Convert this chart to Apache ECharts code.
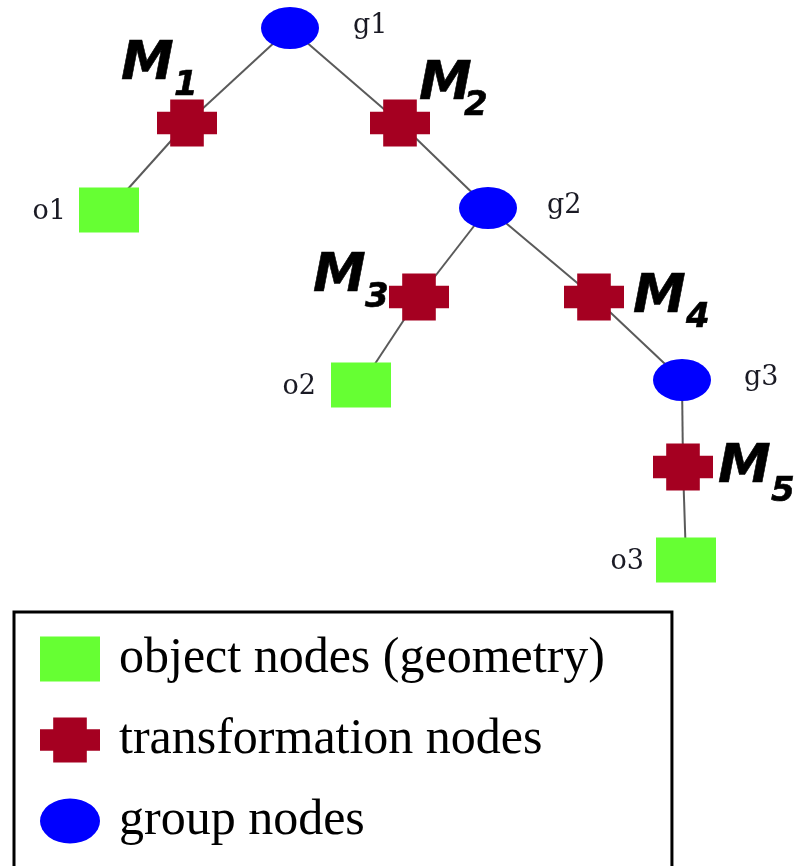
<!DOCTYPE html>
<html><head><meta charset="utf-8">
<script src="https://cdn.jsdelivr.net/npm/echarts@6/dist/echarts.min.js"></script>
<style>html,body{margin:0;padding:0;background:#fff}#c{width:805px;height:866px}</style>
</head><body><div id="c"></div>
<script>
// ---- data ----
const nodeNames = ['g1','M1','M2','o1','g2','M3','M4','o2','g3','M5','o3'];
const nodeTypes = ['group','transform','transform','object','group','transform','transform','object','group','transform','object'];
const nodeX = [290,187,400,109,488,419,594,361,682,683,686];
const nodeY = [28,123,123,210,208,297,297,385,380,467,560];
const edgeSource = ['g1','M1','g1','M2','g2','M3','g2','M4','g3','M5'];
const edgeTarget = ['M1','o1','M2','g2','M3','o2','M4','g3','M5','o3'];
const legendNames = ['object nodes (geometry)','transformation nodes','group nodes'];
const legendTypes = ['object','transform','group'];

// ---- styles ----
const SYM = {
  object:    {symbol:'rect', size:[60,45], color:'#66FF33'},
  transform: {symbol:'path://M22,0H78V26H100V74H78V100H22V74H0V26H22Z', size:[60,47], color:'#A50021'},
  group:     {symbol:'path://M0,50A50,50 0 1 1 100,50A50,50 0 1 1 0,50Z', size:[58,42], color:'#0000FF'}
};
const nameLabel = {
  g1:{position:'right',distance:34,offset:[0,-2]},
  g2:{position:'right',distance:30,offset:[0,-2]},
  g3:{position:'right',distance:33,offset:[0,-2]},
  o1:{position:'left',distance:13,offset:[0,2]},
  o2:{position:'left',distance:15,offset:[0,2]},
  o3:{position:'left',distance:12,offset:[0,2]}
};
const mOffset   = {M1:[-66,-58], M2:[19,-38], M3:[-106,-20], M4:[39,1], M5:[35,1]};
const subOffset = {M1:[-13,-37], M2:[64,-17], M3:[-54,1], M4:[92,21], M5:[88,25]};
const mFont = 'DejaVu Sans';

const nodes = nodeNames.map((n,i)=>{
  const s = SYM[nodeTypes[i]];
  const lab = nameLabel[n];
  return {
    name:n, value:[nodeX[i],nodeY[i]], category:legendTypes.indexOf(nodeTypes[i]),
    symbol:s.symbol, symbolSize:s.size, itemStyle:{color:s.color},
    label: lab ? {show:true, position:lab.position, distance:lab.distance, offset:lab.offset,
                  formatter:n, fontFamily:'DejaVu Serif', fontSize:27, color:'#1a1a24'} : {show:false}
  };
});
const links = edgeSource.map((s,i)=>({source:s, target:edgeTarget[i]}));
const tIdx = nodeNames.map((n,i)=>i).filter(i=>nodeTypes[i]==='transform');
const mData = tIdx.map(i=>({value:[nodeX[i],nodeY[i]], label:{offset:mOffset[nodeNames[i]]}}));
const subData = tIdx.map(i=>({value:[nodeX[i],nodeY[i]], name:nodeNames[i].slice(1), label:{offset:subOffset[nodeNames[i]]}}));

const chart = echarts.init(document.getElementById('c'));
chart.setOption({
  animation:false,
  grid:{left:0,right:0,top:0,bottom:0,containLabel:false},
  xAxis:{type:'value',min:0,max:805,show:false},
  yAxis:{type:'value',min:0,max:866,inverse:true,show:false},
  legend:{
    data: legendNames.map((n,i)=>({name:n, icon:SYM[legendTypes[i]].symbol})),
    orient:'vertical', left:14, top:612, height:330,
    itemWidth:60, itemHeight:45, itemGap:31,
    padding:[22,67,40,26], borderColor:'#000', borderWidth:3, backgroundColor:'#fff',
    textStyle:{fontFamily:'Liberation Serif', fontSize:50, color:'#000', padding:[0,0,0,14]},
    selectedMode:false, symbolKeepAspect:false
  },
  series:[
    {
      type:'graph', coordinateSystem:'cartesian2d', layout:'none',
      categories: legendTypes.map((t,i)=>({name:legendNames[i], symbol:SYM[t].symbol, symbolSize:SYM[t].size, itemStyle:{color:SYM[t].color}})),
      data:nodes, links:links,
      lineStyle:{color:'#5a5a5a', width:2, opacity:1, curveness:0},
      emphasis:{disabled:true}, silent:true
    },
    {
      type:'scatter', data:mData, symbolSize:1, itemStyle:{color:'rgba(0,0,0,0)', opacity:1}, z:5, silent:true,
      label:{show:true, formatter:'M', position:'inside', align:'left', verticalAlign:'middle', opacity:1,
             fontFamily:mFont, fontStyle:'italic', fontWeight:'bold', fontSize:53, color:'#000',
             textBorderColor:'#000', textBorderWidth:0.6}
    },
    {
      type:'scatter', data:subData, symbolSize:1, itemStyle:{color:'rgba(0,0,0,0)', opacity:1}, z:5, silent:true,
      label:{show:true, formatter:'{b}', position:'inside', align:'left', verticalAlign:'middle', opacity:1,
             fontFamily:mFont, fontStyle:'italic', fontWeight:'bold', fontSize:34, color:'#000',
             textBorderColor:'#000', textBorderWidth:0.6}
    }
  ]
});
</script></body></html>
